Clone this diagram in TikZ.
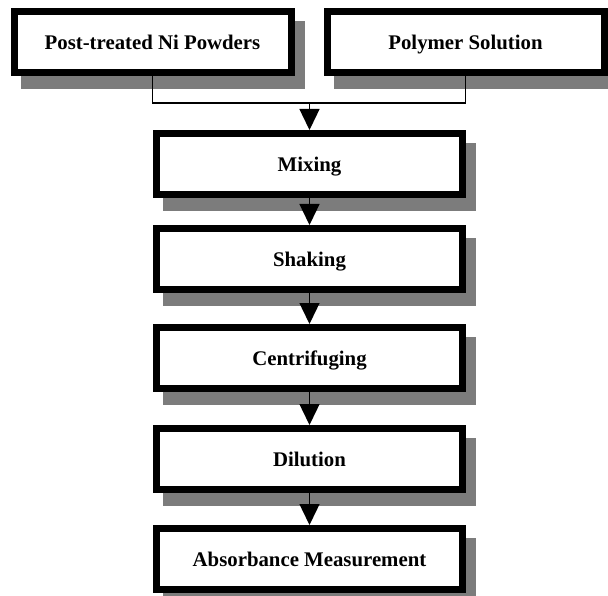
\documentclass[tikz,border=0pt]{standalone}
\usepackage{fontspec}
\setmainfont{Liberation Serif}
\usetikzlibrary{arrows.meta,backgrounds}
\definecolor{shadowc}{HTML}{7C7C7C}
\begin{document}
\begin{tikzpicture}[x=1pt,y=-1pt,
  stepbox/.style={draw=black, fill=white, line width=7pt, minimum height=61pt,
    inner sep=0pt, text height=15pt, text depth=0pt,
    font=\fontsize{20.8}{24}\selectfont\bfseries},
  midbox/.style={stepbox, minimum width=306pt},
  topbox/.style={stepbox, minimum width=277pt},
  link/.style={line width=1.2pt},
  arr/.style={line width=1.4pt, -{Triangle[width=20pt,length=21pt]}}]
\useasboundingbox (0,0) rectangle (608,596);
\node[topbox] (pt) at (152.5,42.5) {Post-treated Ni Powders};
\node[topbox] (ps) at (465.5,42.5) {Polymer Solution};
\node[midbox] (mix) at (309.5,164) {Mixing};
\node[midbox] (sha) at (309.5,259) {Shaking};
\node[midbox] (cen) at (309.5,358) {Centrifuging};
\node[midbox] (dil) at (309.5,459) {Dilution};
\node[midbox] (abs) at (309.5,559) {Absorbance Measurement};
\begin{scope}[on background layer]
\foreach \n in {pt,ps,mix,sha,cen,dil,abs}
  \fill[shadowc] ([shift={(10,13)}]\n.north west) rectangle ([shift={(10,13)}]\n.south east);
\end{scope}
\coordinate (j) at (309.5,103);
\draw[link] (pt.south) -- (pt.south |- j) -- (ps.south |- j) -- (ps.south);
\draw[arr] (j) -- (mix.north);
\draw[arr] (mix.south) -- (sha.north);
\draw[arr] (sha.south) -- (cen.north);
\draw[arr] (cen.south) -- (dil.north);
\draw[arr] (dil.south) -- (abs.north);
\end{tikzpicture}
\end{document}
